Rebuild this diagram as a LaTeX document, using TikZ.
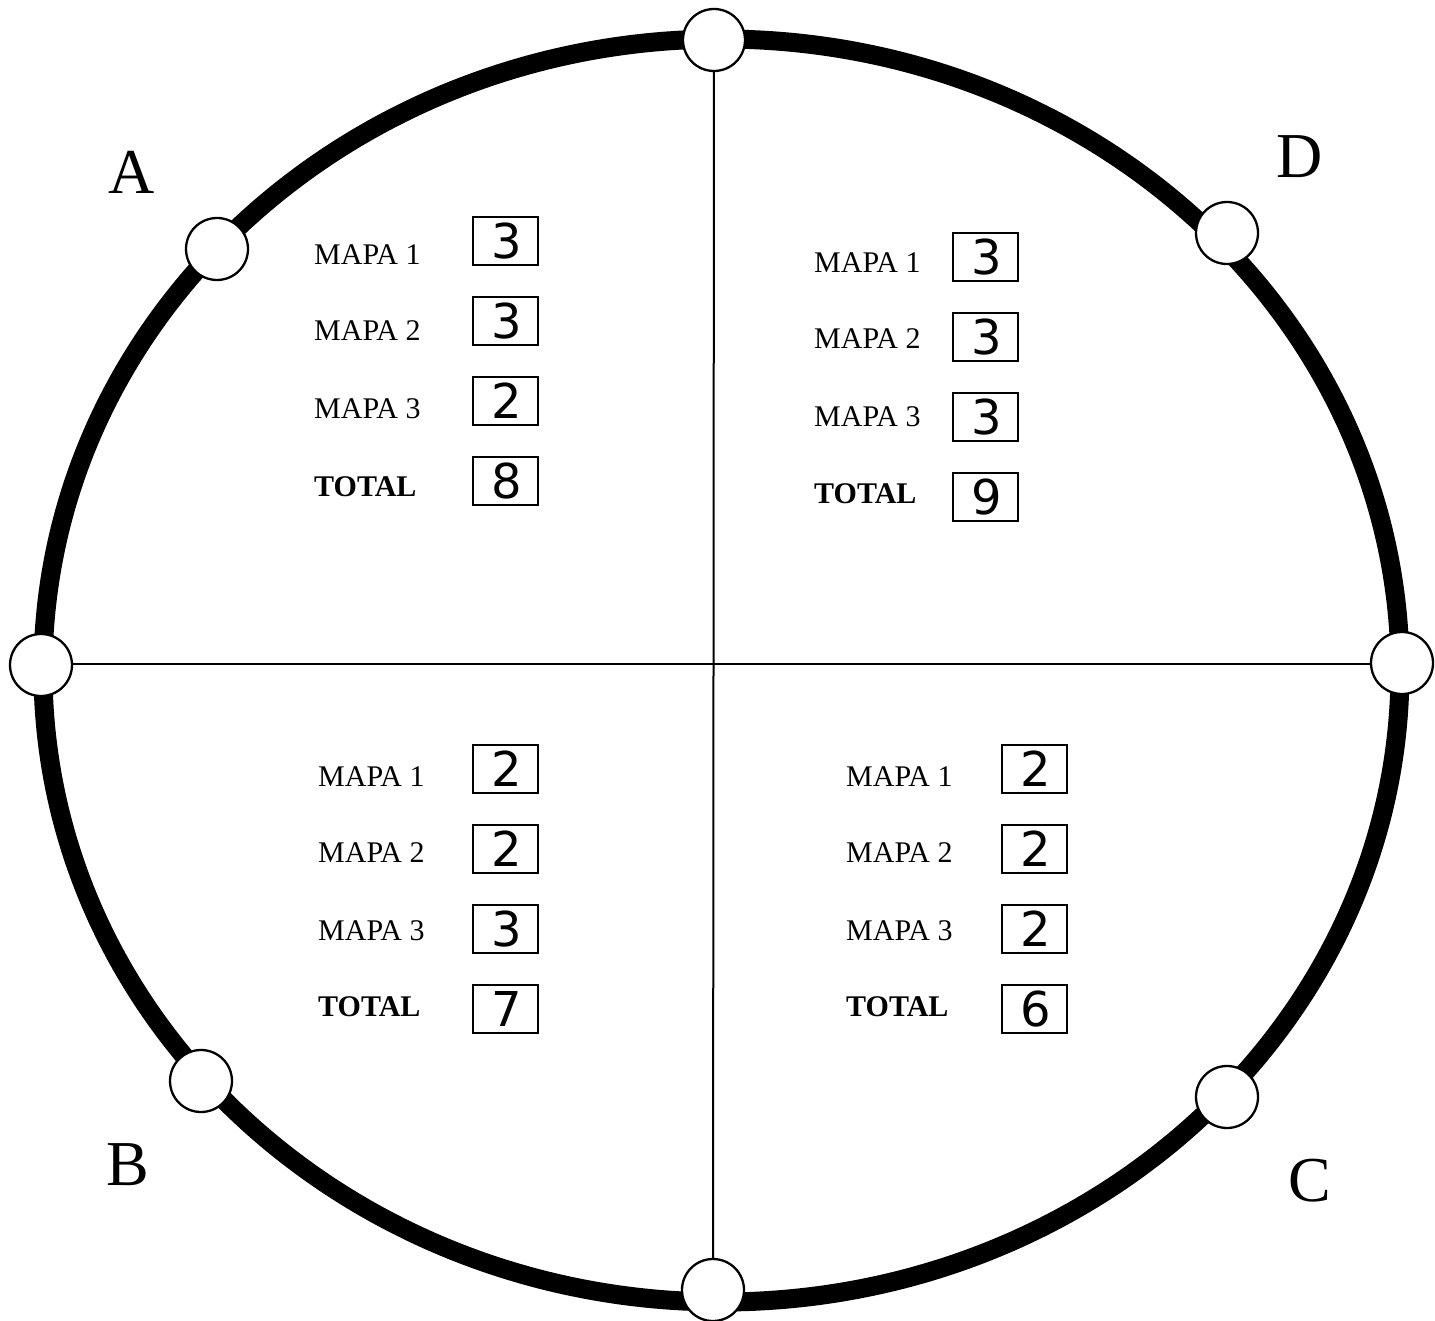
\documentclass[tikz,border=0pt]{standalone}
\usepackage{fontspec}
\setmainfont{Liberation Serif}
\newfontfamily\numfont{DejaVu Sans}
\begin{document}
\begin{tikzpicture}[x=1pt,y=-1pt,
  ring/.style={circle, draw, fill=white, line width=2.3pt, minimum size=62pt, inner sep=0pt},
  lbl/.style={anchor=base west, font=\fontsize{30}{36}\selectfont, inner sep=0pt},
  tot/.style={anchor=base west, font=\bfseries\fontsize{30}{36}\selectfont, inner sep=0pt},
  valbox/.style={draw, line width=2pt, minimum width=65pt, minimum height=48pt, inner sep=0pt, font=\numfont\fontsize{48}{52}\selectfont, execute at begin node={\hspace*{3pt}}},
  quad/.style={font=\fontsize{64}{70}\selectfont, inner sep=0pt},
  divider/.style={line width=2pt}
]
\useasboundingbox (0,0) rectangle (1435,1321);
% outer ring
\draw[line width=19pt] (721.5,670.5) ellipse [x radius=678.5, y radius=631.5];
% ring nodes
\node[ring] (top) at (714,40) {};
\node[ring] (left) at (41,665) {};
\node[ring] (right) at (1402,663) {};
\node[ring] (bottom) at (713,1290) {};
\node[ring] (ca) at (217,249) {};
\node[ring] (cd) at (1227,233) {};
\node[ring] (cb) at (201,1081) {};
\node[ring] (cc) at (1227,1097) {};
% dividers
\coordinate (hmid) at (714,664);
\draw[divider] (top) -- (bottom);
\draw[divider] (left.east |- hmid) -- (right.west |- hmid);
% quadrant letters
\node[quad] (qa) at (132,172) {A};
\node[quad] (qd) at (1300,157) {D};
\node[quad] (qb) at (128,1165) {B};
\node[quad] (qc) at (1310,1181) {C};
% quadrant A
\node[lbl] (a1) at (314,265) {MAPA 1};
\node[lbl] (a2) at (314,341) {MAPA 2};
\node[lbl] (a3) at (314,418) {MAPA 3};
\node[tot] (a4) at (314,496) {TOTAL};
\node[valbox] (va1) at (505.5,241) {3};
\node[valbox] (va2) at (505.5,321) {3};
\node[valbox] (va3) at (505.5,401) {2};
\node[valbox] (va4) at (505.5,481) {8};
% quadrant D
\node[lbl] (d1) at (814,273) {MAPA 1};
\node[lbl] (d2) at (814,349) {MAPA 2};
\node[lbl] (d3) at (814,426) {MAPA 3};
\node[tot] (d4) at (814,503) {TOTAL};
\node[valbox] (vd1) at (985.5,257) {3};
\node[valbox] (vd2) at (985.5,337) {3};
\node[valbox] (vd3) at (985.5,417) {3};
\node[valbox] (vd4) at (985.5,497) {9};
% quadrant B
\node[lbl] (b1) at (318,786) {MAPA 1};
\node[lbl] (b2) at (318,862) {MAPA 2};
\node[lbl] (b3) at (318,940) {MAPA 3};
\node[tot] (b4) at (318,1016) {TOTAL};
\node[valbox] (vb1) at (505.5,769) {2};
\node[valbox] (vb2) at (505.5,849) {2};
\node[valbox] (vb3) at (505.5,929) {3};
\node[valbox] (vb4) at (505.5,1009) {7};
% quadrant C
\node[lbl] (c1) at (846,786) {MAPA 1};
\node[lbl] (c2) at (846,862) {MAPA 2};
\node[lbl] (c3) at (846,940) {MAPA 3};
\node[tot] (c4) at (846,1016) {TOTAL};
\node[valbox] (vc1) at (1034.5,769) {2};
\node[valbox] (vc2) at (1034.5,849) {2};
\node[valbox] (vc3) at (1034.5,929) {2};
\node[valbox] (vc4) at (1034.5,1009) {6};
\end{tikzpicture}
\end{document}
